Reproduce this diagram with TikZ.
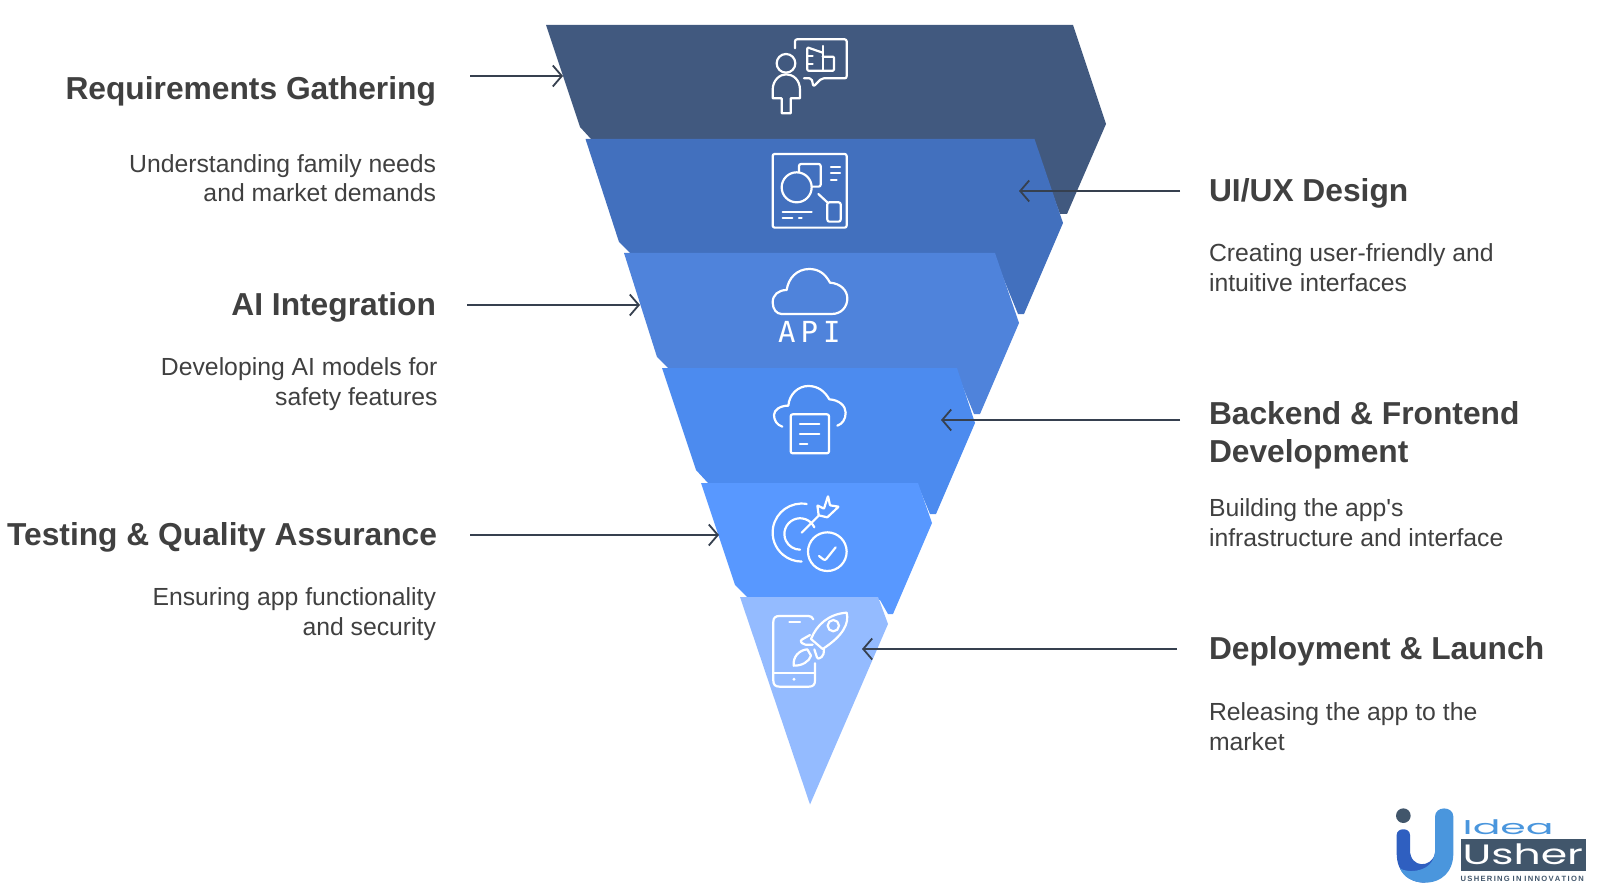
\documentclass[tikz,border=0pt]{standalone}
\usepackage{fontspec}
\setmainfont{Liberation Sans}[Ligatures=TeXOff]
\newfontfamily\monoface{DejaVu Sans Mono}
\newfontfamily\logoface{Poppins}
\usetikzlibrary{arrows.meta}
\definecolor{txt}{HTML}{404040}
\definecolor{arr}{HTML}{36404F}
\definecolor{bandA}{HTML}{41597F}
\definecolor{bandB}{HTML}{4270BE}
\definecolor{bandC}{HTML}{4F83DB}
\definecolor{bandD}{HTML}{4C8BEF}
\definecolor{bandE}{HTML}{5898FF}
\definecolor{bandF}{HTML}{94BBFF}
\definecolor{logoDark}{HTML}{41566B}
\definecolor{logoBlue}{HTML}{4A96DD}
\definecolor{logoDeep}{HTML}{2F5FC0}
\tikzset{
  titleR/.style={anchor=base east,align=right,text=txt,font=\fontsize{31.75}{38}\selectfont\bfseries},
  titleL/.style={anchor=base west,align=left,text=txt,font=\fontsize{31.75}{38}\selectfont\bfseries},
  descR/.style={anchor=base east,align=right,text=txt,font=\fontsize{24.75}{29.6}\selectfont},
  descL/.style={anchor=base west,align=left,text=txt,font=\fontsize{24.75}{29.6}\selectfont},
  pointer/.style={draw=arr,line width=1.8pt,-{Straight Barb[length=9pt,width=21pt,line width=1.8pt]}},
  icon/.style={draw=white,line width=2.2pt,rounded corners=2pt,line cap=round,line join=round},
}
\begin{document}
\begin{tikzpicture}[x=1pt,y=-1pt,inner sep=0pt,outer sep=0pt]
\useasboundingbox (0,0) rectangle (1600,893);
% funnel bands
\fill[bandA] (546,25) -- (1073,25) -- (1106,124) -- (1067,214) -- (1060,214) -- (1040,160) -- (591,139) -- (580,127) -- cycle;
\fill[bandB] (585.5,139) -- (1034.5,139) -- (1063,223) -- (1024,314) -- (1018,314) -- (1000,270) -- (630,253) -- (619,242) -- cycle;
\fill[bandC] (624,253) -- (995,253) -- (1019,323) -- (980,414) -- (974,414) -- (960,380) -- (668,368) -- (657,357) -- cycle;
\fill[bandD] (662,368) -- (957,368) -- (975,423) -- (936,514) -- (930,514) -- (920,490) -- (708,483) -- (696,470) -- cycle;
\fill[bandE] (701,483) -- (918,483) -- (932,523) -- (893,614) -- (888,614) -- (880,600) -- (747,597) -- (735,585) -- cycle;
\fill[bandF] (740,597) -- (878,597) -- (888,624) -- (810,804.5) -- cycle;
% icon: person with book
\begin{scope}[shift={(750,30)},x=0.3333pt,y=-0.3333pt]
\draw[icon] (135,55) -- (135,28) -- (290,28) -- (290,145) -- (215,145) -- (190,170) -- (185,145) -- (162,145);
\draw[icon] (108,100) circle[radius=28];
\draw[icon,rounded corners=0pt] (68,205) -- (68,180) .. controls (68,150) and (90,133) .. (108,133) .. controls (130,133) and (150,150) .. (150,180) -- (150,205) -- (122,205) -- (122,250) -- (95,250) -- (95,205) -- cycle;
\draw[icon,rounded corners=1pt] (218,68) -- (172,52) -- (172,122) -- (252,122) -- (252,80) -- (218,80);
\draw[icon] (218,48) -- (218,122) (172,78) -- (188,78) (172,102) -- (188,102);
% icon: wireframe board
\draw[icon] (68,372) rectangle (290,593);
\draw[icon] (140,472) circle[radius=45];
\draw[icon] (147,425) -- (147,402) -- (212,402) -- (212,470) -- (188,470);
\draw[icon] (243,410) -- (270,410) (243,430) -- (270,430) (243,450) -- (260,450);
\draw[icon] (205,492) -- (232,517);
\draw[icon] (232,517) rectangle (272,575);
\draw[icon] (98,545) -- (185,545) (98,565) -- (127,565) (147,565) -- (155,565);
\end{scope}
% icons: API cloud, document cloud
\begin{scope}[shift={(750,260)},x=0.3333pt,y=-0.3333pt]
\draw[icon,rounded corners=0pt] (95,162) -- (245,162) .. controls (275,162) and (292,140) .. (292,115) .. controls (292,90) and (270,70) .. (240,68) .. controls (225,40) and (205,27) .. (178,27) .. controls (140,27) and (115,55) .. (110,90) .. controls (85,90) and (68,105) .. (68,127) .. controls (68,148) and (80,162) .. (95,162) -- cycle;
\node (apilabel) at (178,215) {\monoface\fontsize{29}{29}\selectfont\textcolor{white}{A\hspace{5pt}P\hspace{5pt}I}};
\draw[icon,rounded corners=0pt] (97,500) .. controls (80,495) and (72,480) .. (72,465) .. controls (72,450) and (90,437) .. (115,437) .. controls (118,402) and (145,378) .. (175,378) .. controls (205,378) and (225,395) .. (238,418) .. controls (268,420) and (287,438) .. (287,458) .. controls (287,478) and (277,492) .. (262,497);
\draw[icon] (122,463) rectangle (237,580);
\draw[icon] (150,493) -- (208,493) (150,522) -- (208,522) (150,552) -- (172,552);
\end{scope}
% icons: target, phone with rocket
\begin{scope}[shift={(750,490)},x=0.3333pt,y=-0.3333pt]
\draw[icon] (170,42) arc[start angle=80,end angle=270,radius=29pt];
\draw[icon] (193,112) arc[start angle=25,end angle=270,radius=15.7pt];
\draw[icon] (232,185) circle[radius=58];
\draw[icon] (207,198) -- (225,212) -- (257,172);
\draw[icon] (155,128) -- (205,78);
\draw[icon,rounded corners=0.5pt] (202,46) -- (222,56) -- (234,18) -- (240,46) -- (266,50) -- (232,82) -- (206,76) -- cycle;
\draw[icon,rounded corners=0pt] (190,388) .. controls (187,381) and (182,378) .. (175,378) -- (88,378) .. controls (76,378) and (70,384) .. (70,395) -- (70,572) .. controls (70,584) and (76,590) .. (88,590) -- (177,590) .. controls (189,590) and (195,584) .. (195,572) -- (195,520);
\draw[icon] (70,550) -- (195,550) (118,397) -- (150,397);
\fill[white] (132,568) circle[radius=5];
\draw[icon,rounded corners=0pt] (183,447) .. controls (200,405) and (235,372) .. (290,368) .. controls (298,400) and (280,437) .. (218,477) -- cycle;
\draw[icon] (250,407) circle[radius=17];
\draw[icon] (180,435) -- (150,452) -- (160,464) -- (188,464);
\draw[icon] (222,478) -- (220,498) -- (203,508) -- (193,478);
\draw[icon,rounded corners=0pt] (172,478) .. controls (148,480) and (128,500) .. (131,527) .. controls (155,528) and (178,515) .. (183,497) -- cycle;
\end{scope}
% text
\node[titleR] (t1) at (436,100) {Requirements Gathering};
\node[descR] (d1) at (436,202) {Understanding family needs\\and market demands};
\node[titleR] (t3) at (436,315) {AI Integration};
\node[descR] (d3) at (437.5,405.5) {Developing AI models for\\safety features};
\node[titleR] (t5) at (437,545) {Testing \& Quality Assurance};
\node[descR] (d5) at (436,635) {Ensuring app functionality\\and security};
\node[titleL] (t2) at (1209,202) {UI/UX Design};
\node[descL] (d2) at (1209,291) {Creating user-friendly and\\intuitive interfaces};
\node[titleL] (t4) at (1209,462) {Backend \& Frontend\\Development};
\node[descL] (d4) at (1209,546) {Building the app's\\infrastructure and interface};
\node[titleL] (t6) at (1209,659) {Deployment \& Launch};
\node[descL] (d6) at (1209,750) {Releasing the app to the\\market};
% pointers
\coordinate (p1s) at (470,76); \coordinate (p1e) at (563,76);
\coordinate (p3s) at (467,305); \coordinate (p3e) at (640,305);
\coordinate (p5s) at (470,535); \coordinate (p5e) at (719,535);
\coordinate (p2s) at (1180,191); \coordinate (p2e) at (1019,191);
\coordinate (p4s) at (1180,420); \coordinate (p4e) at (941,420);
\coordinate (p6s) at (1177,649); \coordinate (p6e) at (862,649);
\draw[pointer] (p1s) -- (p1e);
\draw[pointer] (p3s) -- (p3e);
\draw[pointer] (p5s) -- (p5e);
\draw[pointer] (p2s) -- (p2e);
\draw[pointer] (p4s) -- (p4e);
\draw[pointer] (p6s) -- (p6e);
% logo
\begin{scope}[shift={(1370,790)},x=0.3333pt,y=-0.3333pt]
\fill[logoDeep] (80,135) .. controls (80,112) and (120,112) .. (120,135) -- (120,180) .. controls (120,235) and (185,235) .. (195,190) -- (195,220) .. controls (190,255) and (165,278) .. (165,278) .. controls (115,278) and (80,245) .. (80,190) -- cycle;
\fill[logoBlue] (195,80) .. controls (195,47) and (250,47) .. (250,80) -- (250,190) .. controls (250,245) and (215,278) .. (165,278) .. controls (130,278) and (100,262) .. (90,235) .. controls (110,250) and (190,250) .. (195,185) -- cycle;
\fill[logoDark] (100,77) circle[radius=22];
\fill[logoDark] (272,148) rectangle (648,243);
\node[anchor=base west,xscale=2.05] (logoa) at (278,132) {\logoface\fontsize{20}{20}\selectfont\textcolor{logoBlue}{Idea}};
\node[anchor=base west,xscale=1.52] (logob) at (278,225) {\logoface\fontsize{28}{28}\selectfont\textcolor{white}{Usher}};
\node[anchor=base west] (logoc) at (272,274) {\fontsize{7.6}{8}\selectfont\bfseries\textcolor{logoDark}{U\hspace{1.3pt}S\hspace{1.3pt}H\hspace{1.3pt}E\hspace{1.3pt}R\hspace{1.3pt}I\hspace{1.3pt}N\hspace{1.3pt}G\hspace{2.8pt}I\hspace{1.3pt}N\hspace{2.8pt}I\hspace{1.3pt}N\hspace{1.3pt}N\hspace{1.3pt}O\hspace{1.3pt}V\hspace{1.3pt}A\hspace{1.3pt}T\hspace{1.3pt}I\hspace{1.3pt}O\hspace{1.3pt}N}};
\end{scope}
\end{tikzpicture}
\end{document}
